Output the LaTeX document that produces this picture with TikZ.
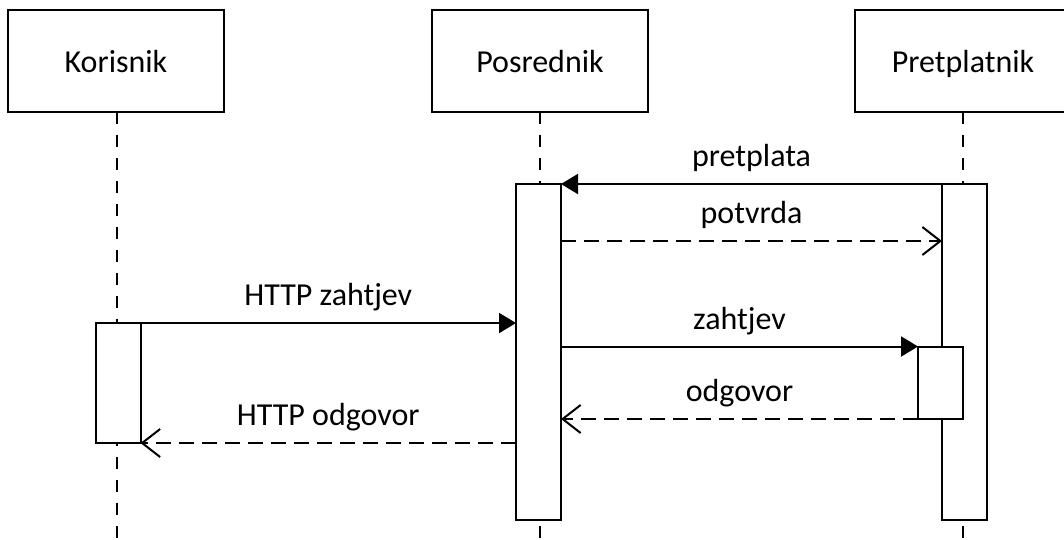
\documentclass[tikz,border=0pt]{standalone}
\usepackage{fontspec}
\setmainfont{Carlito}
\usetikzlibrary{arrows.meta}
\begin{document}
\begin{tikzpicture}[x=1pt,y=-1pt,
  every node/.style={inner sep=0pt, outer sep=0pt},
  txt/.style={font=\fontsize{32}{38}\selectfont},
  actor/.style={draw, line width=2pt, minimum width=216pt, minimum height=102pt,
    text height=22pt, text depth=0pt, txt},
  act/.style={draw, fill=white, line width=2pt, minimum width=45pt, anchor=north west},
  life/.style={line width=2pt, dash pattern=on 12pt off 11pt},
  call/.style={line width=2pt, -{Triangle[length=17pt,width=20pt]}},
  reply/.style={line width=2pt, dash pattern=on 15pt off 8pt,
    -{Straight Barb[length=18pt,width=28pt]}},
  lbl/.style={txt, anchor=base, midway, yshift=17.5pt}]
\useasboundingbox (0,0) rectangle (1064,539);
\clip (0,0) rectangle (1064,539);

% participants
\node[actor] (kor) at (116,61) {Korisnik};
\node[actor] (pos) at (540,61) {Posrednik};
\node[actor] (pre) at (963,61) {Pretplatnik};

% lifelines
\coordinate (korEnd) at (117,539);
\coordinate (posEnd) at (540,539);
\coordinate (preEnd) at (963,539);
\draw[life] (kor.south -| korEnd) -- (korEnd);
\draw[life] (pos.south) -- (posEnd);
\draw[life] (pre.south) -- (preEnd);

% activation bars
\node[act, minimum height=120pt] (korA) at (95.5,323) {};
\node[act, minimum height=336pt] (posA) at (516,184) {};
\node[act, minimum height=336pt] (preA) at (942,184) {};
\node[act, minimum height=72.5pt] (preB) at (918,346.5) {};

% messages
\draw[call] (preA.north west) -- (posA.north east) node[lbl] {pretplata};
\draw[reply] (posA.north east |- 0,241) -- (preA.north west |- 0,241) node[lbl] {potvrda};
\draw[call] (korA.north east) -- (posA.west |- korA.north) node[lbl] {HTTP zahtjev};
\draw[call] (posA.east |- preB.north) -- (preB.north west) node[lbl] {zahtjev};
\draw[reply] (preB.south west) -- (posA.east |- preB.south) node[lbl] {odgovor};
\draw[reply] (posA.west |- korA.south) -- (korA.south east) node[lbl] {HTTP odgovor};
\end{tikzpicture}
\end{document}
